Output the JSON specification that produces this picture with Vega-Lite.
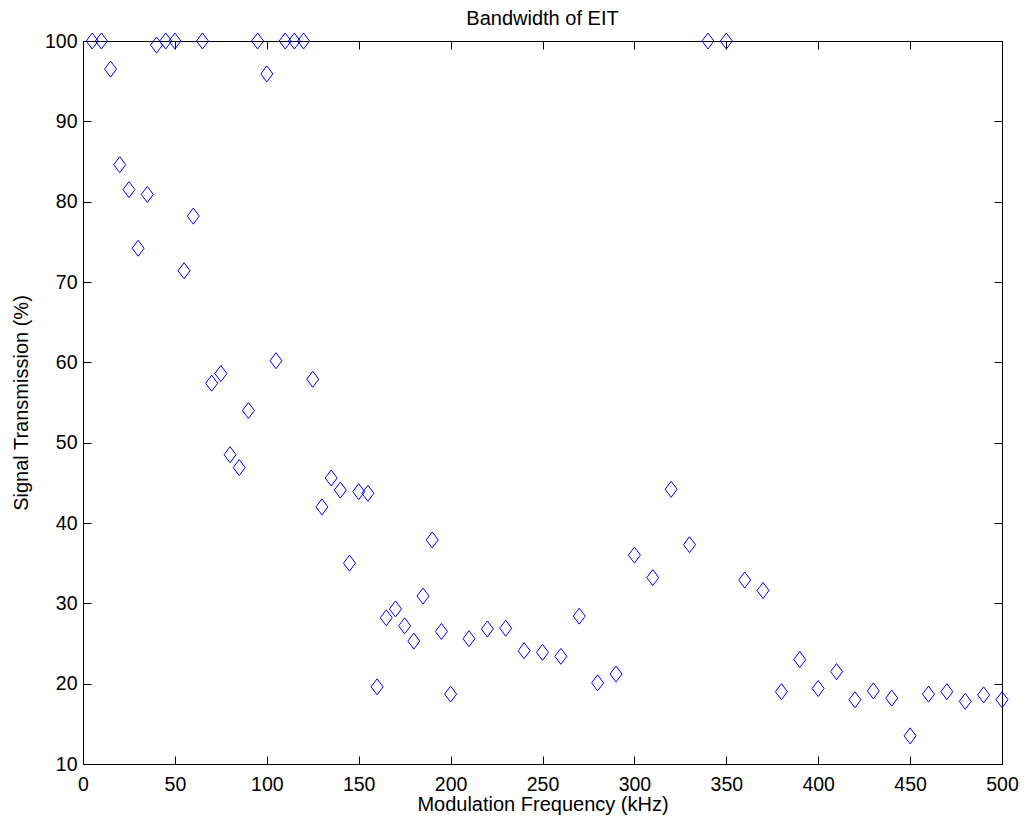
{
  "$schema": "https://vega.github.io/schema/vega-lite/v6.json",
  "width": 919,
  "height": 723,
  "autosize": {"type": "none"},
  "padding": {"left": 83, "top": 41, "right": 26, "bottom": 57},
  "background": "white",
  "config": {
    "font": "Liberation Sans",
    "view": {"stroke": "black", "strokeWidth": 1},
    "axis": {"grid": false, "domainColor": "black", "tickColor": "black", "labelColor": "black", "titleColor": "black", "labelFont": "Liberation Sans", "titleFont": "Liberation Sans", "labelFontSize": 19.5, "titleFontSize": 20, "titleFontWeight": "normal", "tickSize": -8, "labelFlush": false, "labelOverlap": false}
  },
  "title": {"text": "Bandwidth of EIT", "fontSize": 20, "fontWeight": "normal", "font": "Liberation Sans", "color": "black", "offset": 2, "anchor": "middle"},
  "data": {"values": [
    {"f": 5, "t": 100}, {"f": 10, "t": 100}, {"f": 15, "t": 96.5}, {"f": 20, "t": 84.6}, {"f": 25, "t": 81.5},
    {"f": 30, "t": 74.2}, {"f": 35, "t": 80.9}, {"f": 40, "t": 99.5}, {"f": 45, "t": 100}, {"f": 50, "t": 100},
    {"f": 55, "t": 71.4}, {"f": 60, "t": 78.2}, {"f": 65, "t": 100}, {"f": 70, "t": 57.4}, {"f": 75, "t": 58.6},
    {"f": 80, "t": 48.5}, {"f": 85, "t": 46.9}, {"f": 90, "t": 54.0}, {"f": 95, "t": 100}, {"f": 100, "t": 95.9},
    {"f": 105, "t": 60.2}, {"f": 110, "t": 100}, {"f": 115, "t": 100}, {"f": 120, "t": 100}, {"f": 125, "t": 57.9},
    {"f": 130, "t": 42.0}, {"f": 135, "t": 45.6}, {"f": 140, "t": 44.1}, {"f": 145, "t": 35.0}, {"f": 150, "t": 43.9},
    {"f": 155, "t": 43.7}, {"f": 160, "t": 19.6}, {"f": 165, "t": 28.2}, {"f": 170, "t": 29.3}, {"f": 175, "t": 27.2},
    {"f": 180, "t": 25.3}, {"f": 185, "t": 30.9}, {"f": 190, "t": 37.9}, {"f": 195, "t": 26.5}, {"f": 200, "t": 18.7},
    {"f": 210, "t": 25.6}, {"f": 220, "t": 26.8}, {"f": 230, "t": 26.9}, {"f": 240, "t": 24.1}, {"f": 250, "t": 23.9},
    {"f": 260, "t": 23.4}, {"f": 270, "t": 28.4}, {"f": 280, "t": 20.1}, {"f": 290, "t": 21.2}, {"f": 300, "t": 36.0},
    {"f": 310, "t": 33.2}, {"f": 320, "t": 44.2}, {"f": 330, "t": 37.3}, {"f": 340, "t": 100}, {"f": 350, "t": 100},
    {"f": 360, "t": 32.9}, {"f": 370, "t": 31.6}, {"f": 380, "t": 19.0}, {"f": 390, "t": 23.0}, {"f": 400, "t": 19.4},
    {"f": 410, "t": 21.5}, {"f": 420, "t": 18.0}, {"f": 430, "t": 19.1}, {"f": 440, "t": 18.2}, {"f": 450, "t": 13.5},
    {"f": 460, "t": 18.7}, {"f": 470, "t": 19.0}, {"f": 480, "t": 17.8}, {"f": 490, "t": 18.6}, {"f": 500, "t": 18.0}
  ]},
  "layer": [
    {
      "mark": {"type": "point", "shape": "M0,-1L0.75,0L0,1L-0.75,0Z", "size": 256, "filled": false, "stroke": "#0000ff", "strokeWidth": 1, "opacity": 1},
      "encoding": {
        "x": {"field": "f", "type": "quantitative", "scale": {"domain": [0, 500], "nice": false}, "axis": {"title": "Modulation Frequency (kHz)", "values": [0,50,100,150,200,250,300,350,400,450,500], "labelPadding": 19, "titlePadding": 1}},
        "y": {"field": "t", "type": "quantitative", "scale": {"domain": [10, 100], "nice": false, "zero": false}, "axis": {"title": "Signal Transmission (%)", "values": [10,20,30,40,50,60,70,80,90,100], "labelPadding": 14, "titlePadding": 13}}
      }
    },
    {
      "mark": {"type": "point", "opacity": 0},
      "encoding": {
        "x": {"field": "f", "type": "quantitative", "scale": {"domain": [0, 500], "nice": false}, "axis": {"orient": "top", "labels": false, "title": null, "values": [0,50,100,150,200,250,300,350,400,450,500]}},
        "y": {"field": "t", "type": "quantitative", "scale": {"domain": [10, 100], "nice": false, "zero": false}, "axis": {"orient": "right", "labels": false, "title": null, "values": [10,20,30,40,50,60,70,80,90,100]}}
      }
    }
  ],
  "resolve": {"axis": {"x": "independent", "y": "independent"}}
}
